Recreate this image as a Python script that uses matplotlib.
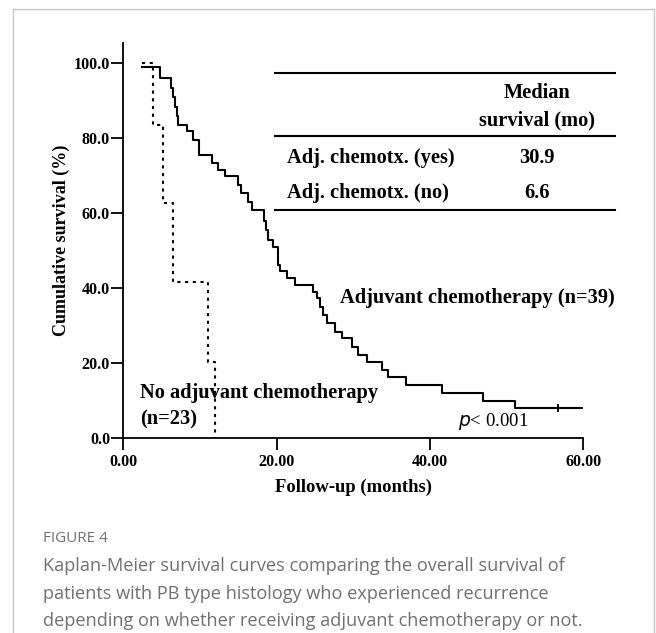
import matplotlib
matplotlib.use("Agg")
import matplotlib.pyplot as plt
from matplotlib.lines import Line2D

# Kaplan-Meier steps (months, cumulative survival %)
yes_times = [2.4, 4.79, 6.25, 6.5, 6.75, 6.95, 7.17, 8.27, 9.05, 9.91, 11.53, 12.39,
             13.33, 14.9, 15.33, 16.30, 16.75, 18.30, 18.60, 18.91, 19.56, 20.22, 20.40,
             21.31, 22.40, 24.78, 25.22, 25.66, 26.10, 26.53, 27.61, 28.49, 29.79, 30.65,
             31.75, 33.70, 34.56, 36.85, 41.53, 46.92, 51.09, 60.0]
yes_surv = [99.1, 96.0, 93.4, 90.9, 88.3, 85.8, 83.5, 81.8, 79.5, 75.6, 73.3, 71.5,
            69.8, 67.5, 65.3, 63.1, 60.9, 58.0, 55.5, 52.9, 51.1, 46.2, 44.6,
            42.8, 40.9, 39.1, 37.3, 35.1, 32.9, 30.7, 28.4, 26.7, 24.4, 22.2,
            20.4, 18.2, 16.4, 14.2, 12.1, 9.9, 8.0, 8.0]
yes_censor_t = [56.74]
yes_censor_s = [8.0]

no_times = [2.4, 3.91, 5.22, 6.44, 11.09, 11.96]
no_surv = [100.0, 83.5, 62.7, 41.8, 20.4, 0.0]

y_ticks = [0, 20, 40, 60, 80, 100]
x_ticks = [0, 20, 40, 60]

table_rows = ["Adj. chemotx. (yes)", "Adj. chemotx. (no)"]
table_medians = ["30.9", "6.6"]

caption_head = "FIGURE 4"
caption_lines = [
    "Kaplan-Meier survival curves comparing the overall survival of",
    "patients with PB type histology who experienced recurrence",
    "depending on whether receiving adjuvant chemotherapy or not.",
]

W, H = 656, 633
fig = plt.figure(figsize=(W / 100, H / 100), dpi=100)
serif = "Liberation Serif"

ax = fig.add_axes([123.3 / W, 1 - 438.3 / H, 460 / W, 395 / H])
ax.step(yes_times, yes_surv, where="post", color="black", lw=1.5)
ax.plot(yes_censor_t, yes_censor_s, marker="|", ms=6, mew=1.3, color="black", ls="none")
ax.step(no_times, no_surv, where="post", color="black", lw=1.5, ls=(0, (1.5, 2.2)))

ax.set_xlim(0, 60)
ax.set_ylim(0, 105.3)
ax.set_xticks(x_ticks)
ax.set_yticks(y_ticks)
ax.set_xticklabels([f"{v:.2f}" for v in x_ticks])
ax.set_yticklabels([f"{v:.1f}" for v in y_ticks])
for s in ["top", "right"]:
    ax.spines[s].set_visible(False)
for s in ["left", "bottom"]:
    ax.spines[s].set_linewidth(1.3)
ax.tick_params(axis="both", direction="out", length=8.5, width=1.3)
ax.tick_params(axis="y", pad=1)
ax.tick_params(axis="x", pad=3)
for lab in ax.get_xticklabels() + ax.get_yticklabels():
    lab.set_fontfamily(serif)
    lab.set_fontweight("bold")
    lab.set_fontsize(11.6)

ax.set_ylabel("Cumulative survival (%)", fontfamily=serif, fontweight="bold",
              fontsize=13, labelpad=3)
ax.set_xlabel("Follow-up (months)", fontfamily=serif, fontweight="bold",
              fontsize=13.4, labelpad=6)

# median survival table, figure pixel coords
def fx(px):
    return px / W

def fy(py):
    return 1 - py / H

for py in [73.3, 136, 210]:
    fig.add_artist(Line2D([fx(275), fx(615)], [fy(py), fy(py)], color="black", lw=1.5))
tkw = dict(fontfamily=serif, fontweight="bold", fontsize=14.7, va="center")
fig.text(fx(537), fy(93), "Median", ha="center", **tkw)
fig.text(fx(537), fy(120), "survival (mo)", ha="center", **tkw)
for py, row, med in zip([158, 193], table_rows, table_medians):
    fig.text(fx(287), fy(py), row, ha="left", **tkw)
    fig.text(fx(537), fy(py), med, ha="center", **tkw)

fig.text(fx(340), fy(298), "Adjuvant chemotherapy (n=39)", ha="left", **tkw)
fig.text(fx(140), fy(393), "No adjuvant chemotherapy", ha="left", **tkw)
fig.text(fx(140), fy(419), "(n=23)", ha="left", **tkw)
fig.text(fx(458), fy(422), "$p$< 0.001", ha="left", va="center", fontfamily=serif,
         fontsize=13.5)

# caption and frame
gray = "#707070"
fig.text(fx(43), fy(539), caption_head, ha="left", va="center", color=gray,
         fontfamily="Open Sans", fontsize=11)
for py, line in zip([566, 594, 621], caption_lines):
    fig.text(fx(43), fy(py), line, ha="left", va="center", color=gray,
             fontfamily="Open Sans", fontsize=13.1)

frame = "#c8c8c8"
fig.add_artist(Line2D([fx(13), fx(13)], [0, fy(9)], color=frame, lw=1))
fig.add_artist(Line2D([fx(13), fx(654)], [fy(9), fy(9)], color=frame, lw=1))
fig.add_artist(Line2D([fx(654), fx(654)], [0, fy(9)], color=frame, lw=1))

fig.savefig("out.png", dpi=100)
